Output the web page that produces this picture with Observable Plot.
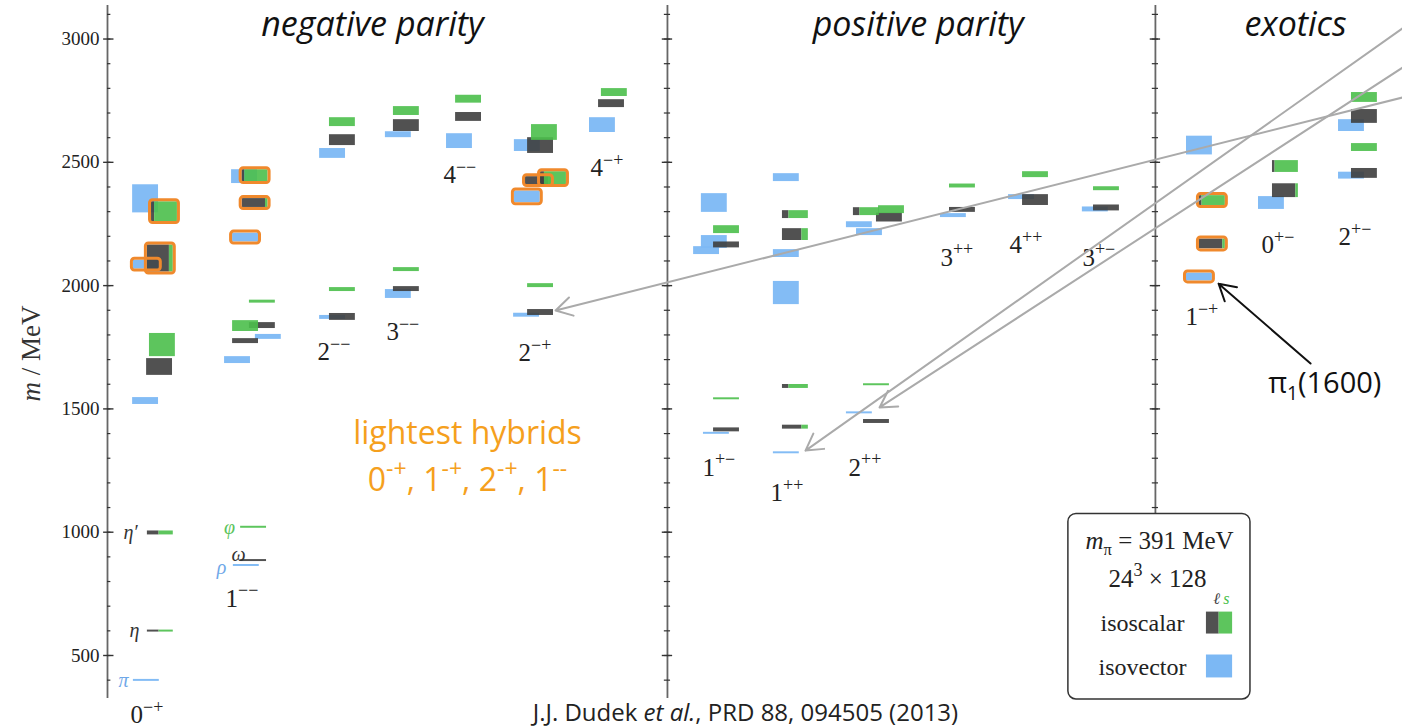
<!DOCTYPE html>
<html><head><meta charset="utf-8">
<script src="https://cdn.jsdelivr.net/npm/d3@7"></script>
<script src="https://cdn.jsdelivr.net/npm/@observablehq/plot@0.6"></script>
<style>body{margin:0;background:#fff;} svg{display:block}</style>
</head><body><div id="chart"></div>
<script>
// ---- data (x = slot position along the spectrum, m = mass in MeV, e = half-height error) ----
const sectorTitles = [["negative parity", 10.23], ["positive parity", 31.3], ["exotics", 45.87]];
const sectorDividers = [21.62, 40.46];
const yTicksMajor = [500, 1000, 1500, 2000, 2500, 3000];
const yTicksMinor = d3.range(400, 3101, 100);

// J^PC column labels: [label, x, m]
const jpcLabels = [
  ["0^{−+}", 0.89, 257], ["1^{−−}", 4.56, 731], ["2^{−−}", 8.11, 1729], ["3^{−−}", 10.77, 1810],
  ["4^{−−}", 12.97, 2447], ["2^{−+}", 15.87, 1725], ["4^{−+}", 18.65, 2475],
  ["1^{+−}", 22.97, 1262], ["1^{++}", 25.6, 1157], ["2^{++}", 28.61, 1262], ["3^{++}", 32.16, 2114],
  ["4^{++}", 34.83, 2163], ["3^{+−}", 37.64, 2114],
  ["1^{−+}", 41.62, 1871], ["0^{+−}", 44.56, 2163], ["2^{+−}", 47.53, 2196]
];

// known meson names: [name, x, m, kind]
const mesonNames = [
  ["π", 0.62, 399, "iv"], ["η", 1.04, 599, "l"], ["η′", 0.89, 1000, "l"],
  ["φ", 4.71, 1020, "s"], ["ω", 5.06, 910, "l"], ["ρ", 4.40, 858, "iv"]
];

// isovector states: [x, m, e, hybrid]
const isovector = [
  [1.00, 399, 4, 0], [0.97, 1532, 14, 0], [1.00, 2085, 18, 1], [0.97, 2352, 57, 0],
  [4.86, 865, 4, 0], [4.52, 1698, 14, 0], [5.71, 1792, 10, 0], [4.83, 2195, 18, 1], [4.79, 2442, 28, 0],
  [8.19, 1871, 8, 0], [8.19, 2536, 20, 0],
  [10.73, 1966, 18, 0], [10.73, 2612, 12, 0],
  [13.09, 2586, 30, 0],
  [15.68, 1880, 8, 0], [15.71, 2360, 24, 1], [15.71, 2568, 24, 0],
  [18.61, 2651, 30, 0],
  [23.01, 1401, 4, 0], [22.63, 2142, 16, 0], [22.93, 2177, 26, 0], [22.93, 2335, 38, 0],
  [25.71, 1322, 4, 0], [25.71, 1970, 47, 0], [25.71, 2130, 16, 0], [25.71, 2438, 16, 0],
  [28.53, 1484, 4, 0], [28.92, 2217, 14, 0], [28.53, 2247, 12, 0],
  [32.16, 2284, 8, 0],
  [34.79, 2359, 10, 0],
  [37.64, 2309, 10, 0],
  [41.66, 2035, 16, 1], [41.66, 2568, 38, 0],
  [44.44, 2335, 26, 0],
  [47.53, 2446, 14, 0], [47.53, 2649, 24, 0]
];

// isoscalar states: [x, m, e, light-quark fraction, hybrid]
const isoscalar = [
  [1.54, 599, 4, 0.45, 0], [1.54, 997, 8, 0.45, 0], [1.51, 1670, 34, 1, 0], [1.62, 1759, 47, 0, 0],
  [1.54, 2110, 55, 0.85, 1], [1.70, 2300, 40, 0.12, 1],
  [5.14, 885, 4, 1, 0], [5.14, 1020, 4, 0, 0], [4.83, 1775, 10, 1, 0], [4.83, 1836, 22, 0, 0],
  [5.48, 1838, 12, 1, 0], [5.48, 1935, 6, 0, 0], [5.20, 2335, 18, 0.9, 1], [5.20, 2446, 24, 0.1, 1],
  [8.57, 1873, 14, 1, 0], [8.57, 1984, 8, 0, 0], [8.57, 2590, 22, 1, 0], [8.57, 2663, 18, 0, 0],
  [11.04, 1986, 10, 1, 0], [11.04, 2065, 8, 0, 0], [11.04, 2649, 24, 1, 0], [11.04, 2708, 18, 0, 0],
  [13.44, 2684, 18, 1, 0], [13.44, 2756, 16, 0, 0],
  [16.22, 1891, 12, 1, 0], [16.22, 2000, 8, 0, 0], [16.14, 2426, 16, 0.9, 1], [16.72, 2436, 26, 0.15, 1],
  [16.22, 2568, 32, 1, 0], [16.37, 2621, 32, 0, 0],
  [18.96, 2738, 16, 1, 0], [19.07, 2783, 16, 0, 0],
  [23.40, 1415, 8, 1, 0], [23.40, 1541, 4, 0, 0], [23.40, 2165, 12, 1, 0], [23.40, 2227, 16, 0, 0],
  [26.06, 1426, 8, 0.75, 0], [26.06, 1591, 8, 0.25, 0], [26.06, 2207, 24, 0.75, 0], [26.06, 2288, 16, 0.25, 0],
  [29.19, 1449, 8, 1, 0], [29.19, 1598, 4, 0, 0], [28.80, 2300, 16, 0.25, 0], [29.69, 2276, 18, 1, 0], [29.77, 2308, 16, 0, 0],
  [32.51, 2307, 10, 1, 0], [32.51, 2404, 8, 0, 0],
  [35.33, 2347, 22, 1, 0], [35.33, 2450, 12, 0, 0],
  [38.07, 2315, 12, 1, 0], [38.07, 2393, 8, 0, 0],
  [42.16, 2169, 20, 0.9, 1], [42.16, 2345, 20, 0.1, 1],
  [44.98, 2385, 28, 0.9, 0], [44.98, 2483, 24, 0.1, 0],
  [48.03, 2455, 20, 1, 0], [48.03, 2560, 16, 0, 0], [48.03, 2686, 28, 1, 0], [48.03, 2763, 20, 0, 0]
];

// annotation arrows: [x1, m1, x2, m2]
const greyArrows = [[50, 2763, 17.3, 1899], [50, 3043, 26.95, 1331], [50, 2884, 29.81, 1506]];
const pi1Arrow = [[46.45, 1684, 42.9, 2008]];
const pi1Label = [["π_{1}(1600)", 47.0, 1603]];
const hybridNote = [["lightest hybrids", 13.9, 1400], ["0^{-+}, 1^{-+}, 2^{-+}, 1^{--}", 13.9, 1210]];
const citation = [["J.J. Dudek *et al.*, PRD 88, 094505 (2013)", 24.63, 266]];
const legendLines = [["*m*_{π} = 391 MeV", 40.62, 966], ["24^{3} × 128", 40.54, 812]];
const legendItems = [["isoscalar", 630], ["isovector", 451]];

// ---- styling ----
const BLUE = "#7cb8f4", GREEN = "#4bbf4b", DARK = "#3e3e3e", ORANGE = "#f0892c";
const SERIF = "'Liberation Serif', 'Times New Roman', serif";
const SANS = "'Open Sans', 'Noto Sans', sans-serif";
const W = 1, Y0 = 325.6, Y1 = 3136;

const iv = isovector.map(([x, m, e, h]) => ({x1: x, x2: x + W, y1: m - e, y2: m + e, hybrid: h}));
const is = isoscalar.map(([x, m, e, f, h]) => ({x1: x, xm: x + f * W, x2: x + W, y1: m - e, y2: m + e, hybrid: h}));
const hybrids = [...iv, ...is].filter(d => d.hybrid);
const axesX = [0, ...sectorDividers];
const nameColor = {iv: "#6fa8e8", l: "#333", s: "#5cc45c"};

const chart = Plot.plot({
  width: 1402, height: 728,
  marginLeft: 107, marginRight: 0, marginTop: 5, marginBottom: 30,
  x: {domain: [0, 50], axis: null},
  y: {domain: [Y0, Y1], axis: null},
  style: {fontFamily: SERIF, fontSize: "19px", color: "#222", background: "white", overflow: "visible"},
  marks: [
    Plot.ruleX(axesX, {x: d => d, y1: Y0, y2: Y1, stroke: "#666", strokeWidth: 1.8}),
    Plot.ruleY(yTicksMinor, {y: d => d, x1: 0, x2: 0.13, stroke: "#333", strokeWidth: 1.2}),
    Plot.ruleY(yTicksMajor, {y: d => d, x1: -0.15, x2: 0.25, stroke: "#333", strokeWidth: 1.4}),
    ...sectorDividers.map(dv => Plot.ruleY(yTicksMinor, {y: d => d, x1: dv - 0.12, x2: dv + 0.12, stroke: "#333", strokeWidth: 1.2})),
    ...sectorDividers.map(dv => Plot.ruleY(yTicksMajor, {y: d => d, x1: dv - 0.2, x2: dv + 0.2, stroke: "#333", strokeWidth: 1.4})),
    Plot.text(yTicksMajor, {x: () => 0, y: d => d, text: d => String(d), textAnchor: "end", dx: -8, fontSize: 19, fill: "#222"}),
    Plot.text([["*m* / MeV", -2.93, 1725]], {x: d => d[1], y: d => d[2], text: d => d[0], rotate: -90, fontSize: 27, fill: "#333"}),

    // states
    Plot.rect(iv, {x1: "x1", x2: "x2", y1: "y1", y2: "y2", fill: BLUE, fillOpacity: 0.95}),
    Plot.rect(is, {x1: "x1", x2: "xm", y1: "y1", y2: "y2", fill: DARK, fillOpacity: 0.9}),
    Plot.rect(is, {x1: "xm", x2: "x2", y1: "y1", y2: "y2", fill: GREEN, fillOpacity: 0.9}),
    Plot.rect(hybrids, {x1: "x1", x2: "x2", y1: "y1", y2: "y2", fill: "none", stroke: ORANGE, strokeWidth: 3, inset: -1.5, rx: 3}),

    // labels
    Plot.text(jpcLabels, {x: d => d[1], y: d => d[2], text: d => d[0], textAnchor: "start", fontSize: 25, fill: "#222"}),
    Plot.text(mesonNames, {x: d => d[1], y: d => d[2], text: d => d[0], fontStyle: "italic", fontSize: 20, fill: d => nameColor[d[3]]}),
    Plot.text(sectorTitles, {x: d => d[1], y: () => 3055, text: d => d[0], fontFamily: SANS, fontStyle: "italic", fontSize: 34, fill: "#111"}),
    Plot.text(hybridNote, {x: d => d[1], y: d => d[2], text: d => d[0], fontFamily: SANS, fontSize: 32, fill: "#f5a01d"}),

    // arrows
    Plot.arrow(greyArrows, {x1: d => d[0], y1: d => d[1], x2: d => d[2], y2: d => d[3], stroke: "#aaaaaa", strokeWidth: 2, headLength: 14}),
    Plot.arrow(pi1Arrow, {x1: d => d[0], y1: d => d[1], x2: d => d[2], y2: d => d[3], stroke: "#111", strokeWidth: 2, headLength: 14}),
    Plot.text(pi1Label, {x: d => d[1], y: d => d[2], text: d => d[0], fontFamily: SANS, fontSize: 29, fill: "#111"}),

    // legend box
    Plot.rect([0], {x1: 37.1, x2: 44.13, y1: Y0 - 4, y2: 1074, fill: "white", stroke: "#333", strokeWidth: 1.5, rx: 8}),
    Plot.text(legendLines, {x: d => d[1], y: d => d[2], text: d => d[0], fontSize: 25, fill: "#222"}),
    Plot.text(legendItems, {x: () => 39.96, y: d => d[1], text: d => d[0], fontSize: 24, fill: "#222"}),
    Plot.text([["ℓ", DARK, 42.82], ["s", GREEN, 43.2]], {x: d => d[2], y: () => 731, text: d => d[0], fill: d => d[1], fontStyle: "italic", fontSize: 16}),
    Plot.rect([legendItems[0]], {x1: 42.43, x2: 42.92, y1: d => d[1] - 43, y2: d => d[1] + 46, fill: DARK, fillOpacity: 0.9}),
    Plot.rect([legendItems[0]], {x1: 42.92, x2: 43.44, y1: d => d[1] - 43, y2: d => d[1] + 46, fill: GREEN, fillOpacity: 0.9}),
    Plot.rect([legendItems[1]], {x1: 42.43, x2: 43.44, y1: d => d[1] - 42, y2: d => d[1] + 51, fill: BLUE}),

    // citation
    Plot.text(citation, {x: d => d[1], y: d => d[2], text: d => d[0], fontFamily: SANS, fontSize: 24, fill: "#222"})
  ]
});

document.getElementById("chart").appendChild(chart);

// rich text: ^{sup}, _{sub}, *italic*
function richify(svg) {
  svg.querySelectorAll("text").forEach(t => {
    const s = t.textContent;
    if (!/[\^_*]/.test(s)) return;
    const fs = parseFloat(getComputedStyle(t).fontSize) || 16;
    const parts = s.split(/(\^\{[^}]*\}|_\{[^}]*\}|\*[^*]*\*)/).filter(p => p !== "");
    t.textContent = "";
    let shift = 0;
    for (const p of parts) {
      const ts = document.createElementNS("http://www.w3.org/2000/svg", "tspan");
      let target = 0, txt = p, size = null, italic = false;
      if (p.startsWith("^{")) { target = -0.42 * fs; txt = p.slice(2, -1); size = 0.72 * fs; }
      else if (p.startsWith("_{")) { target = 0.25 * fs; txt = p.slice(2, -1); size = 0.66 * fs; }
      else if (p.startsWith("*")) { txt = p.slice(1, -1); italic = true; }
      const dy = target - shift;
      if (dy) ts.setAttribute("dy", dy.toFixed(2));
      shift = target;
      if (size) ts.setAttribute("font-size", size.toFixed(1));
      if (italic) ts.setAttribute("font-style", "italic");
      ts.textContent = txt;
      t.appendChild(ts);
    }
  });
}
richify(chart);
</script>
</body></html>
